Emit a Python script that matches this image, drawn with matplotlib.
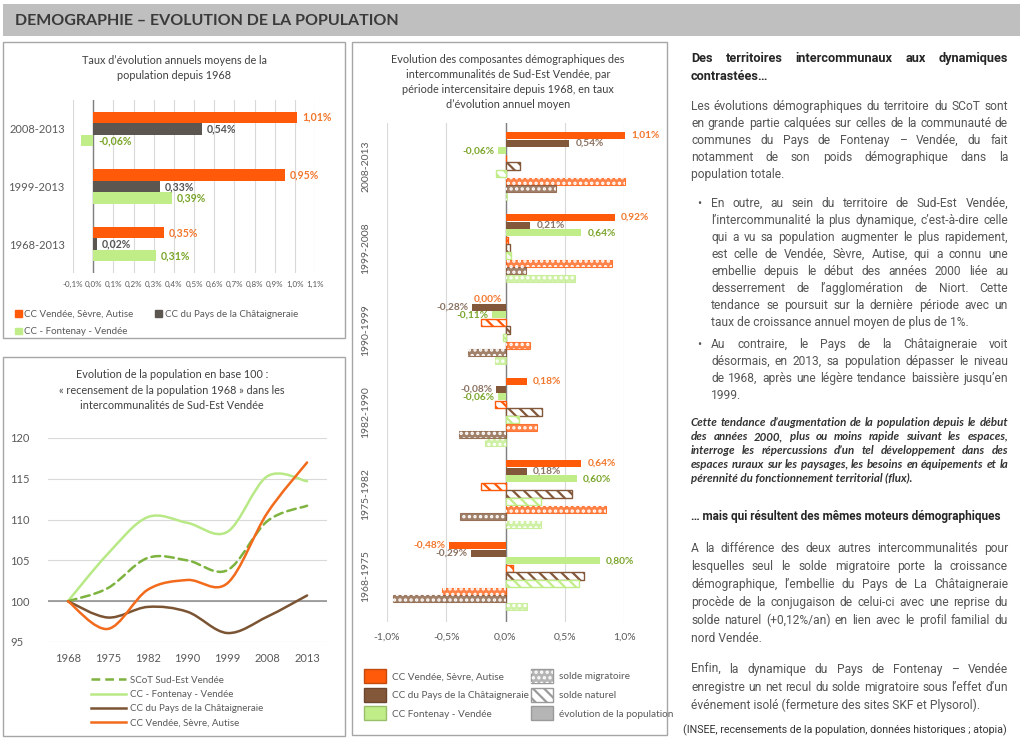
import numpy as np
import matplotlib
matplotlib.use('Agg')
import matplotlib.pyplot as plt
from matplotlib.patches import Rectangle, Patch, PathPatch
from matplotlib.path import Path
from matplotlib.lines import Line2D

plt.rcParams['font.family'] = ['Lato', 'DejaVu Sans']
plt.rcParams['hatch.linewidth'] = 1.6

W, H = 1024, 739

# taux d'evolution annuels moyens depuis 1968
periods_1 = ['2008-2013', '1999-2013', '1968-2013']
rate_vsa = [1.01, 0.95, 0.35]
rate_cha = [0.54, 0.33, 0.02]
rate_fon = [-0.06, 0.39, 0.31]

# population en base 100 (1968)
years = ['1968', '1975', '1982', '1990', '1999', '2008', '2013']
idx_scot = [100, 101.6, 105.3, 105.0, 103.8, 109.8, 111.7]
idx_fon = [100, 105.8, 110.3, 109.6, 108.5, 115.3, 114.7]
idx_cha = [100, 98.0, 99.3, 98.7, 96.1, 98.1, 100.7]
idx_vsa = [100, 96.6, 101.4, 102.6, 102.2, 110.8, 117.0]

# composantes par periode intercensitaire
periods_3 = ['2008-2013', '1999-2008', '1990-1999', '1982-1990', '1975-1982', '1968-1975']
evo_vsa = [1.01, 0.92, 0.00, 0.18, 0.64, -0.48]
evo_cha = [0.54, 0.21, -0.28, -0.08, 0.18, -0.29]
evo_fon = [-0.06, 0.64, -0.11, -0.06, 0.60, 0.80]
nat_vsa = [0.00, 0.02, -0.21, -0.09, -0.21, 0.06]
nat_cha = [0.12, 0.04, 0.04, 0.31, 0.56, 0.66]
nat_fon = [-0.08, 0.05, -0.02, 0.11, 0.30, 0.62]
mig_vsa = [1.01, 0.90, 0.21, 0.27, 0.85, -0.54]
mig_cha = [0.43, 0.17, -0.32, -0.39, -0.38, -0.95]
mig_fon = [0.01, 0.59, -0.09, -0.17, 0.30, 0.18]

ORANGE = '#FF5A0A'
GRAY_D = '#5B5650'
GREEN = '#C0ED88'
BROWN = '#83573A'
L_ORANGE = '#F2772C'
L_GREEN = '#7AA52A'
L_GRAY = '#555555'
L_BROWN = '#8A7262'
TXT = '#595959'
GRID = '#D9D9D9'


def rect(x0, y0, x1, y1):
    return [x0 / W, 1 - y1 / H, (x1 - x0) / W, (y1 - y0) / H]


def fpos(x, y):
    return (x / W, 1 - y / H)


def pct(v):
    return ('%.2f%%' % v).replace('.', ',')


fig = plt.figure(figsize=(W / 100, H / 100), dpi=100)
bg = fig.add_axes([0, 0, 1, 1])
bg.set_xlim(0, W)
bg.set_ylim(H, 0)
bg.axis('off')

# header + boxes
bg.add_patch(Rectangle((3, 4), 1017, 32, facecolor='#BFBFBF', edgecolor='none'))
bg.text(15, 21, 'DEMOGRAPHIE – EVOLUTION DE LA POPULATION', fontsize=11.5,
        fontweight='bold', color='#3A3A3A', va='center')
for x0, y0, x1, y1 in [(3, 42, 345, 338), (3, 357, 345, 736), (352, 42, 667, 735)]:
    bg.add_patch(Rectangle((x0, y0), x1 - x0, y1 - y0, facecolor='white',
                           edgecolor='#A6A6A6', lw=1))

# ---------------- panel 1
bg.text(174, 68, 'Taux d’évolution annuels moyens de la\npopulation depuis 1968',
        ha='center', va='center', fontsize=7.8, color='#404040', linespacing=1.45)
ax1 = fig.add_axes(rect(73, 100, 315, 273))
y1 = np.arange(len(periods_1))
h1 = 0.2
ax1.barh(y1 - h1, rate_vsa, h1, color=ORANGE, zorder=3)
ax1.barh(y1, rate_cha, h1, color=GRAY_D, zorder=3)
ax1.barh(y1 + h1, rate_fon, h1, color=GREEN, zorder=3)
for vals, off, col in [(rate_vsa, -h1, L_ORANGE), (rate_cha, 0, L_GRAY), (rate_fon, h1, L_GREEN)]:
    for yy, v in zip(y1, vals):
        ax1.text(max(v, 0) + 0.025, yy + off, pct(v), color=col, fontsize=7.6,
                 fontweight='bold', va='center', ha='left', zorder=4)
ax1.set_xlim(-0.1, 1.1)
ax1.set_ylim(2.5, -0.5)
ticks1 = np.round(np.arange(-0.1, 1.11, 0.1), 1)
ax1.set_xticks(ticks1)
ax1.set_xticklabels([('%.1f%%' % t).replace('.', ',') for t in ticks1], fontsize=5.8, color=TXT)
ax1.set_yticks(y1, periods_1, fontsize=8, color=TXT)
ax1.tick_params(length=0, pad=6)
ax1.grid(axis='x', color=GRID, lw=0.8, zorder=0)
ax1.axvline(0, color='#808080', lw=1, zorder=2)
for s in ax1.spines.values():
    s.set_visible(False)
fig.legend(handles=[Patch(color=ORANGE, label='CC Vendée, Sèvre, Autise'),
                    Patch(color=GREEN, label='CC - Fontenay - Vendée'),
                    Patch(color=GRAY_D, label='CC du Pays de la Châtaigneraie')],
           loc='upper left', bbox_to_anchor=fpos(6, 301), ncol=2, frameon=False,
           fontsize=7, labelcolor=TXT, handlelength=0.7, handleheight=0.7,
           handletextpad=0.3, columnspacing=2.2, labelspacing=0.9)

# ---------------- panel 2
bg.text(172, 390, 'Evolution de la population en base 100 :\n« recensement de la population 1968 » dans les\n'
        'intercommunalités de Sud-Est Vendée', ha='center', va='center', fontsize=7.8,
        color='#404040', linespacing=1.45)
ax2 = fig.add_axes(rect(48, 438, 327, 642))
xs = np.arange(len(years))


def smooth_path(xv, yv):
    pts = np.column_stack([xv, yv]).astype(float)
    ext = np.vstack([pts[0], pts, pts[-1]])
    verts = [pts[0]]
    codes = [Path.MOVETO]
    for i in range(len(pts) - 1):
        p0, p1, p2, p3 = ext[i], ext[i + 1], ext[i + 2], ext[i + 3]
        verts += [p1 + (p2 - p0) / 6, p2 - (p3 - p1) / 6, p2]
        codes += [Path.CURVE4] * 3
    return Path(verts, codes)


series2 = [(idx_fon, '#B8E986', '-', 'CC - Fontenay - Vendée'),
           (idx_scot, '#7DB33E', (0, (3.5, 2)), 'SCoT Sud-Est Vendée'),
           (idx_cha, '#7B5433', '-', 'CC du Pays de la Châtaigneraie'),
           (idx_vsa, '#F26A1B', '-', 'CC Vendée, Sèvre, Autise')]
for vals, col, ls, lab in series2:
    ax2.add_patch(PathPatch(smooth_path(xs, vals), fill=False, edgecolor=col, lw=1.8,
                            linestyle=ls, zorder=3, capstyle='round'))
ax2.set_xlim(-0.5, 6.5)
ax2.set_ylim(95, 120)
ax2.set_yticks(range(95, 121, 5))
ax2.set_yticklabels([str(v) for v in range(95, 121, 5)], fontsize=8, color=TXT)
ax2.set_xticks(xs, years, fontsize=8, color=TXT)
ax2.tick_params(length=0)
ax2.tick_params(axis='x', pad=8)
ax2.tick_params(axis='y', pad=27)
for lab in ax2.get_yticklabels():
    lab.set_ha('left')
ax2.grid(axis='y', color=GRID, lw=0.8, zorder=0)
ax2.axhline(100, color='#8A8A8A', lw=1.1, zorder=2)
for s in ax2.spines.values():
    s.set_visible(False)
leg_order = [1, 0, 2, 3]
fig.legend(handles=[Line2D([], [], color=series2[i][1], lw=1.8, linestyle=series2[i][2],
                           label=series2[i][3]) for i in leg_order],
           loc='upper left', bbox_to_anchor=fpos(82, 667), frameon=False, fontsize=7,
           labelcolor=TXT, handlelength=3.6, handletextpad=0.4, labelspacing=0.55)

# ---------------- panel 3
bg.text(508, 82, 'Evolution des composantes démographiques des\nintercommunalités de Sud-Est Vendée, par\n'
        'période intercensitaire depuis 1968, en taux\nd’évolution annuel moyen', ha='center',
        va='center', fontsize=7.8, color='#404040', linespacing=1.45)
ax3 = fig.add_axes(rect(387, 123, 624, 622))
g = np.arange(len(periods_3))
step = 7.6 / 82
bh = step * 0.95
rows = [(evo_vsa, 'evo', ORANGE), (evo_cha, 'evo', BROWN), (evo_fon, 'evo', GREEN),
        (nat_vsa, 'nat', ORANGE), (nat_cha, 'nat', BROWN), (nat_fon, 'nat', GREEN),
        (mig_vsa, 'mig', ORANGE), (mig_cha, 'mig', BROWN), (mig_fon, 'mig', GREEN)]
for k, (vals, kind, col) in enumerate(rows):
    yy = g + (k - 4) * step
    if kind == 'evo':
        ax3.barh(yy, vals, bh, color=col, zorder=3, clip_on=False)
    elif kind == 'nat':
        ax3.barh(yy, vals, bh, facecolor='white', edgecolor=col, lw=1, hatch='\\\\\\',
                 zorder=3, clip_on=False)
    else:
        ax3.barh(yy, vals, bh, facecolor=col, edgecolor=col, lw=0.8, alpha=0.75,
                 zorder=3, clip_on=False)
        ax3.barh(yy, vals, bh, facecolor='none', edgecolor='white', lw=0, hatch='...',
                 zorder=3, clip_on=False)
lab_cols = [L_ORANGE, L_BROWN, L_GREEN]
for k in range(3):
    vals = rows[k][0]
    for gi, v in zip(g, vals):
        yy = gi + (k - 4) * step
        if v > 0:
            ax3.text(v + 0.05, yy, pct(v), color=lab_cols[k], fontsize=7.3, fontweight='bold',
                     ha='left', va='center', zorder=4)
        else:
            ax3.text(v - 0.03, yy, pct(v), color=lab_cols[k], fontsize=7.3, fontweight='bold',
                     ha='right', va='center', zorder=4)
ax3.set_xlim(-1.0, 1.0)
ax3.set_ylim(5 + 46 / 82, -43 / 82)
ax3.set_xticks([-1.0, -0.5, 0.0, 0.5, 1.0])
ax3.set_xticklabels(['-1,0%', '-0,5%', '0,0%', '0,5%', '1,0%'], fontsize=7.5, color=TXT)
ax3.set_yticks(g, periods_3, rotation=90, va='center', fontsize=7.5, color=TXT)
ax3.tick_params(length=0)
ax3.tick_params(axis='y', pad=12)
ax3.tick_params(axis='x', pad=8)
ax3.grid(axis='x', color=GRID, lw=0.8, zorder=0)
ax3.axvline(0, color='#808080', lw=1, zorder=2)
for s in ax3.spines.values():
    s.set_visible(False)
h_mig = (Patch(facecolor='#B5B5B5', edgecolor='#9A9A9A'),
         Patch(facecolor='none', edgecolor='white', lw=0, hatch='...'))
fig.legend(handles=[Patch(facecolor=ORANGE, edgecolor='#C04A10'),
                    Patch(facecolor=BROWN, edgecolor='#6A4530'),
                    Patch(facecolor=GREEN, edgecolor='#9ABF6A'),
                    h_mig,
                    Patch(facecolor='white', edgecolor='#9A9A9A', hatch='\\\\\\'),
                    Patch(facecolor='#B5B5B5', edgecolor='#9A9A9A')],
           labels=['CC Vendée, Sèvre, Autise', 'CC du Pays de la Châtaigneraie', 'CC Fontenay - Vendée',
                   'solde migratoire', 'solde naturel', 'évolution de la population'],
           loc='upper left', bbox_to_anchor=fpos(355, 660), ncol=2, frameon=False,
           fontsize=7.2, labelcolor=TXT, handlelength=2.2, handleheight=1.8,
           handletextpad=0.6, columnspacing=0.2, labelspacing=0.45)

# ---------------- text column
renderer = fig.canvas.get_renderer()
TF = ['Roboto', 'DejaVu Sans']
TI = ['Lato', 'DejaVu Sans']


def text_width(s, kw):
    t = bg.text(0, 0, s, **kw)
    w = t.get_window_extent(renderer=renderer).width
    t.remove()
    return w


def fit(lines, base, avail, **kw):
    widest = max(text_width(l, dict(fontsize=base, **kw)) for l in lines)
    return base * min(1.0, 0.985 * avail / widest)


def place(lines, x0, x1, y0, dy, kw, justify=True):
    for i, line in enumerate(lines):
        y = y0 + i * dy
        words = line.split(' ')
        if not justify or i == len(lines) - 1 or len(words) == 1:
            bg.text(x0, y, line, ha='left', va='baseline', **kw)
            continue
        ws = [text_width(w, kw) for w in words]
        gap = (x1 - x0 - sum(ws)) / (len(words) - 1)
        x = x0
        for w, wd in zip(words, ws):
            bg.text(x, y, w, ha='left', va='baseline', **kw)
            x += wd + gap


head1 = ['Des territoires intercommunaux aux dynamiques', 'contrastées…']
para1 = ['Les évolutions démographiques du territoire du SCoT sont',
         'en grande partie calquées sur celles de la communauté de',
         'communes du Pays de Fontenay – Vendée, du fait',
         'notamment de son poids démographique dans la',
         'population totale.']
bull1 = ['En outre, au sein du territoire de Sud-Est Vendée,',
         'l’intercommunalité la plus dynamique, c’est-à-dire celle',
         'qui a vu sa population augmenter le plus rapidement,',
         'est celle de Vendée, Sèvre, Autise, qui a connu une',
         'embellie depuis le début des années 2000 liée au',
         'desserrement de l’agglomération de Niort. Cette',
         'tendance se poursuit sur la dernière période avec un',
         'taux de croissance annuel moyen de plus de 1%.']
bull2 = ['Au contraire, le Pays de la Châtaigneraie voit',
         'désormais, en 2013, sa population dépasser le niveau',
         'de 1968, après une légère tendance baissière jusqu’en',
         '1999.']
ital = ['Cette tendance d’augmentation de la population depuis le début',
        'des années 2000, plus ou moins rapide suivant les espaces,',
        'interroge les répercussions d’un tel développement dans des',
        'espaces ruraux sur les paysages, les besoins en équipements et la',
        'pérennité du fonctionnement territorial (flux).']
head2 = '… mais qui résultent des mêmes moteurs démographiques'
para2 = ['A la différence des deux autres intercommunalités pour',
         'lesquelles seul le solde migratoire porte la croissance',
         'démographique, l’embellie du Pays de La Châtaigneraie',
         'procède de la conjugaison de celui-ci avec une reprise du',
         'solde naturel (+0,12%/an) en lien avec le profil familial du',
         'nord Vendée.']
para3 = ['Enfin, la dynamique du Pays de Fontenay – Vendée',
         'enregistre un net recul du solde migratoire sous l’effet d’un',
         'événement isolé (fermeture des sites SKF et Plysorol).']
source = '(INSEE, recensements de la population, données historiques ; atopia)'

XL, XR = 691, 1008
XB = 711
BODY = '#555555'
s_body = min(fit(para1[:-1] + para2[:-1] + para3[:-1], 9.8, XR - XL, family=TF),
             fit(bull1[:-1] + bull2[:-1], 9.8, XR - XB, family=TF))
kb = dict(fontsize=s_body, color=BODY, family=TF)
kh = dict(fontsize=9.2, color='#262626', fontweight='bold', family=TF)
s_h2 = fit([head2], 9.2, 1005 - XL, family=TF, fontweight='bold')
s_it = fit(ital[:-1], 9.2, XR - XL, family=TI, fontstyle='italic', fontweight='bold')
ki = dict(fontsize=s_it, color='#333333', fontstyle='italic', fontweight='bold', family=TI)
s_src = fit([source], 8.4, 1011 - 683, family=TF)

place(head1, XL, XR, 62, 18, kh)
place(para1, XL, XR, 110, 17, kb)
place(bull1, XB, XR, 207, 17, kb)
bg.text(697, 207, '•', ha='left', va='baseline', **kb)
place(bull2, XB, XR, 348, 17, kb)
bg.text(697, 348, '•', ha='left', va='baseline', **kb)
place(ital, XL, XR, 426, 14, ki)
bg.text(XL, 520, head2, ha='left', va='baseline', **dict(kh, fontsize=s_h2))
place(para2, XL, XR, 552, 18, kb)
place(para3, XL, XR, 673, 18, kb)
bg.text(683, 733, source, ha='left', va='baseline', fontsize=s_src, color='#333333', family=TF)

fig.savefig('out.png', dpi=100)
